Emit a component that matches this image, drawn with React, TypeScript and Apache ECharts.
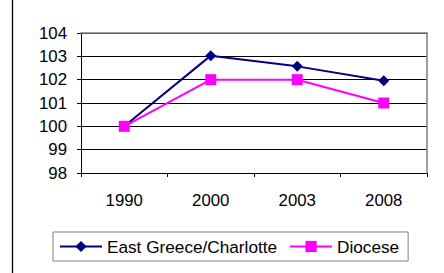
import React, { useEffect, useRef } from "react";
import * as echarts from "echarts";

const categories = ["1990", "2000", "2003", "2008"];
const eastGreece = [100, 103.03, 102.57, 101.95];
const diocese = [100, 102, 102, 101];
const seriesNames = ["East Greece/Charlotte", "Diocese"];

const FONT = "Liberation Sans, Arial, sans-serif";
const FS = 16.8;

export default function App() {
  const ref = useRef<HTMLDivElement>(null);
  useEffect(() => {
    document.body.style.margin = "0";
    const chart = echarts.init(ref.current!, null, { renderer: "svg" });
    chart.setOption({
      animation: false,
      backgroundColor: "#ffffff",
      textStyle: { fontFamily: FONT },
      grid: { left: 81, right: 17, top: 33, bottom: 100 },
      graphic: [
        {
          type: "line",
          shape: { x1: 12.5, y1: 0, x2: 12.5, y2: 273 },
          style: { stroke: "#000", lineWidth: 1.3 },
        },
      ],
      legend: {
        left: 53,
        top: 232,
        orient: "horizontal",
        borderColor: "#808080",
        borderWidth: 1,
        padding: [6, 9, 6, 6],
        itemGap: 12,
        itemWidth: 42,
        itemHeight: 14,
        textStyle: { fontFamily: FONT, fontSize: 17.2, color: "#000" },
        data: seriesNames,
      },
      xAxis: [
        {
          type: "category",
          data: categories,
          boundaryGap: true,
          axisLine: { lineStyle: { color: "#000", width: 1 } },
          axisTick: { show: true, length: 4, alignWithLabel: false, lineStyle: { color: "#000" } },
          axisLabel: { fontFamily: FONT, fontSize: FS, color: "#000", margin: 19 },
          splitLine: { show: false },
        },
        {
          type: "category",
          data: categories,
          position: "top",
          z: 10,
          axisLine: { lineStyle: { color: "#808080", width: 1.5 } },
          axisTick: { show: false },
          axisLabel: { show: false },
          splitLine: { show: false },
        },
      ],
      yAxis: [
        {
          type: "value",
          min: 98,
          max: 104,
          interval: 1,
          axisLine: { show: true, lineStyle: { color: "#000", width: 1 } },
          axisTick: { show: true, length: 4, lineStyle: { color: "#000" } },
          axisLabel: { fontFamily: FONT, fontSize: FS, color: "#000", margin: 14 },
          splitLine: { show: true, lineStyle: { color: "#000", width: 1 } },
        },
        {
          type: "value",
          min: 98,
          max: 104,
          interval: 1,
          position: "right",
          z: 10,
          axisLine: { show: true, lineStyle: { color: "#808080", width: 1.5 } },
          axisTick: { show: false },
          axisLabel: { show: false },
          splitLine: { show: false },
        },
      ],
      series: [
        {
          name: seriesNames[0],
          type: "line",
          data: eastGreece,
          symbol: "diamond",
          symbolSize: 11,
          lineStyle: { color: "#000080", width: 2 },
          itemStyle: { color: "#000080" },
          z: 3,
        },
        {
          name: seriesNames[1],
          type: "line",
          data: diocese,
          symbol: "rect",
          symbolSize: 11,
          lineStyle: { color: "#ff00ff", width: 2 },
          itemStyle: { color: "#ff00ff" },
          z: 4,
        },
      ],
    });
    return () => chart.dispose();
  }, []);
  return <div ref={ref} style={{ width: 444, height: 273 }} />;
}
